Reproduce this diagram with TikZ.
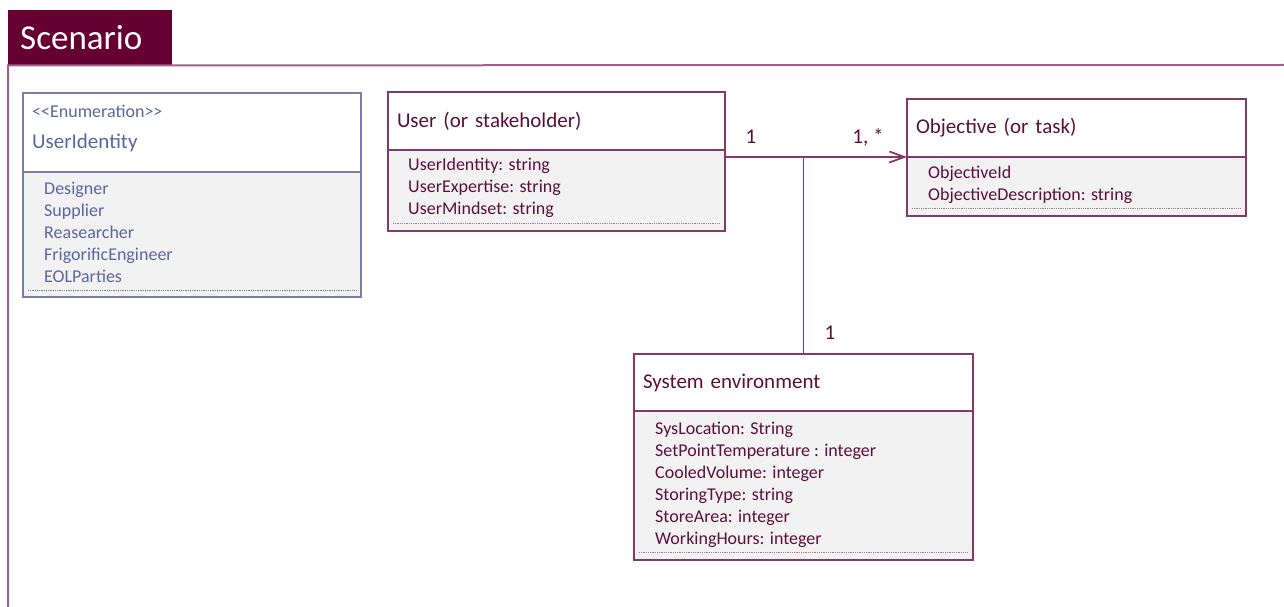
\documentclass[tikz,border=0pt]{standalone}
\usepackage{fontspec}
\setmainfont{Carlito}
\usetikzlibrary{positioning, arrows.meta}

\definecolor{tabcol}{HTML}{660033}
\definecolor{framecol}{HTML}{A0608A}
\definecolor{classcol}{HTML}{85386A}
\definecolor{textcol}{HTML}{5C1038}
\definecolor{enumcol}{HTML}{7C7CA8}
\definecolor{enumtext}{HTML}{5B66A0}
\definecolor{bodycol}{HTML}{F2F2F2}

\tikzset{
  frameline/.style={draw=framecol, line width=2pt},
  classhead/.style={draw=classcol, fill=white, line width=1.5pt, outer sep=0pt, anchor=north west, inner xsep=9pt, inner ysep=0pt, align=left, text=textcol, font=\fontsize{21}{25}\selectfont},
  classbody/.style={draw=classcol, fill=bodycol, line width=1.5pt, outer sep=0pt, inner sep=0pt},
  attrs/.style={anchor=north west, inner sep=0pt, align=left, text=textcol, font=\fontsize{18}{22}\selectfont},
  dotline/.style={draw=classcol!70, densely dotted, line width=0.8pt},
  mult/.style={text=textcol, font=\fontsize{21}{25}\selectfont},
  assoc/.style={draw=classcol, line width=1.8pt},
}

\begin{document}
\begin{tikzpicture}[x=1pt, y=1pt]
\useasboundingbox (0,0) rectangle (1284,-607);

% package frame
\node[fill=tabcol, text=white, anchor=north west, minimum width=164pt, minimum height=55pt, inner xsep=12pt, text width=140pt, align=left, font=\fontsize{35}{40}\selectfont] (tab) at (8,-10) {Scenario};
\coordinate (frameright) at (1284,-65);
\coordinate (framebottom) at (8,-607);
\draw[frameline] (frameright) -- (tab.south west) -- (framebottom);

% UserIdentity enumeration
\node[classhead, draw=enumcol, minimum width=338pt, minimum height=79pt] (identhead) at (23,-93) {};
\node[anchor=west, inner sep=0pt, text=enumtext, font=\fontsize{18}{21}\selectfont] (identstereo) at ([xshift=9pt, yshift=-18pt]identhead.north west) {<{}<Enumeration>{}>};
\node[anchor=west, inner sep=0pt, text=enumtext, font=\fontsize{21}{25}\selectfont] (identname) at ([xshift=9pt, yshift=-50pt]identhead.north west) {UserIdentity};
\node[classbody, draw=enumcol, minimum width=338pt, minimum height=125pt, below=0pt of identhead] (identbody) {};
\node[attrs, text=enumtext] (identlist) at ([xshift=21pt, yshift=-10pt]identbody.north west) {Designer\\Supplier\\Reasearcher\\FrigorificEngineer\\EOLParties};
\draw[dotline, draw=enumcol] ([xshift=5pt, yshift=7pt]identbody.south west) -- ([xshift=-5pt, yshift=7pt]identbody.south east);

% User
\node[classhead, minimum width=337pt, minimum height=58pt, text width=319pt] (userhead) at (388,-92) {User (or stakeholder)};
\node[classbody, minimum width=337pt, minimum height=81pt, below=0pt of userhead] (userbody) {};
\node[attrs] (userattrs) at ([xshift=20pt, yshift=-8pt]userbody.north west) {UserIdentity: string\\UserExpertise: string\\UserMindset: string};
\draw[dotline] ([xshift=5pt, yshift=8pt]userbody.south west) -- ([xshift=-5pt, yshift=8pt]userbody.south east);

% Objective
\node[classhead, minimum width=339pt, minimum height=58pt, text width=321pt] (objhead) at (907,-99) {Objective (or task)};
\node[classbody, minimum width=339pt, minimum height=59pt, below=0pt of objhead] (objbody) {};
\node[attrs] (objattrs) at ([xshift=21pt, yshift=-9pt]objbody.north west) {ObjectiveId\\ObjectiveDescription: string};
\draw[dotline] ([xshift=5pt, yshift=8pt]objbody.south west) -- ([xshift=-5pt, yshift=8pt]objbody.south east);

% System environment
\node[classhead, minimum width=339pt, minimum height=57pt, text width=321pt] (syshead) at (634,-354) {System environment};
\node[classbody, minimum width=339pt, minimum height=149pt, below=0pt of syshead] (sysbody) {};
\node[attrs] (sysattrs) at ([xshift=21pt, yshift=-11pt]sysbody.north west) {SysLocation: String\\SetPointTemperature : integer\\CooledVolume: integer\\StoringType: string\\StoreArea: integer\\WorkingHours: integer};
\draw[dotline] ([xshift=5pt, yshift=8pt]sysbody.south west) -- ([xshift=-5pt, yshift=8pt]sysbody.south east);

% associations
\coordinate (junction) at (syshead.north |- objhead.south);
\draw[assoc, -{Straight Barb[length=15pt, width=11pt]}] (userbody.north east |- objhead.south) -- (objhead.south west);
\draw[assoc] (junction) -- (syshead.north);
\node[mult] (multuser) at (751,-137) {1};
\node[mult] (multobj) at (868,-137) {1, *};
\node[mult] (multsys) at (830,-333) {1};
\end{tikzpicture}
\end{document}
